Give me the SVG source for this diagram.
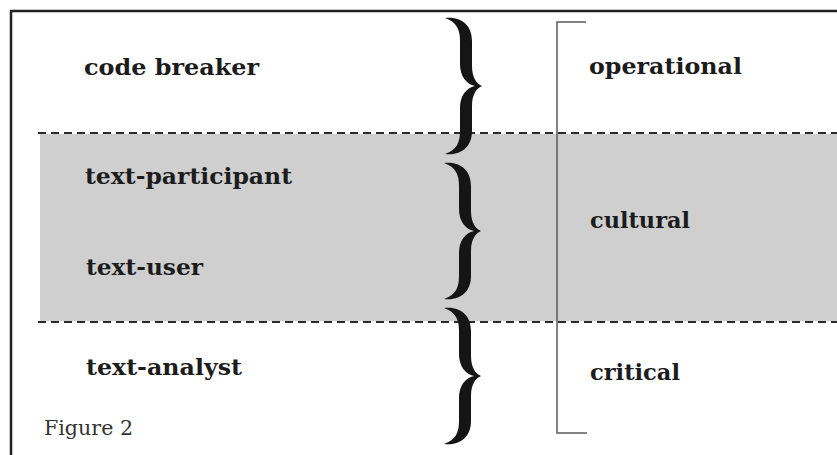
<svg xmlns="http://www.w3.org/2000/svg" width="837" height="455" viewBox="0 0 837 455">
  <defs>
    <style>
      .lbl { font-family: "DejaVu Serif", "Liberation Serif", serif; font-weight: bold; font-size: 23px; fill: #1c1c1c; }
      .cap { font-family: "DejaVu Serif", "Liberation Serif", serif; font-size: 20px; fill: #333; }
      .dash { stroke: #2a2a2a; stroke-width: 2; stroke-dasharray: 8 5; fill: none; }
      .brk { stroke: #5a5a5a; stroke-width: 1.5; fill: none; }
      .brace { fill: #151515; }
    </style>
    <path id="brace" d="M -37,-68 C -20,-70 -10,-60 -10,-45 L -10,-20 C -10,-8 -5,-2 0,0 C -5,2 -10,8 -10,20 L -10,45 C -10,60 -20,70 -37,68 C -25,64 -22,56 -22,45 L -22,22 C -22,10 -16,2 -7,0 C -16,-2 -22,-10 -22,-22 L -22,-45 C -22,-56 -25,-64 -37,-68 Z"/>
  </defs>
  <rect x="0" y="0" width="837" height="455" fill="#ffffff"/>
  <g id="background">
    <rect x="40" y="134" width="797" height="187" fill="#cfcfcf"/>
    <path d="M 11,455 L 11,11 L 837,11" fill="none" stroke="#222" stroke-width="2.5"/>
  </g>
  <g id="connectors">
    <line class="dash" x1="38" y1="133" x2="837" y2="133"/>
    <line class="dash" x1="38" y1="322" x2="837" y2="322"/>
    <path class="brk" d="M 586,22 L 557,22 L 557,433 L 587,433"/>
    <use href="#brace" class="brace" transform="translate(482,86)"/>
    <use href="#brace" class="brace" transform="translate(481,231)"/>
    <use href="#brace" class="brace" transform="translate(481,376)"/>
  </g>
  <g id="code-breaker"><text class="lbl" x="84" y="75" textLength="175" lengthAdjust="spacingAndGlyphs">code breaker</text></g>
  <g id="text-participant"><text class="lbl" x="85" y="184" textLength="207" lengthAdjust="spacingAndGlyphs">text-participant</text></g>
  <g id="text-user"><text class="lbl" x="86" y="275" textLength="117" lengthAdjust="spacingAndGlyphs">text-user</text></g>
  <g id="text-analyst"><text class="lbl" x="86" y="375" textLength="156" lengthAdjust="spacingAndGlyphs">text-analyst</text></g>
  <g id="operational"><text class="lbl" x="589" y="74" textLength="153" lengthAdjust="spacingAndGlyphs">operational</text></g>
  <g id="cultural"><text class="lbl" x="590" y="228" textLength="100" lengthAdjust="spacingAndGlyphs">cultural</text></g>
  <g id="critical"><text class="lbl" x="590" y="380" textLength="90" lengthAdjust="spacingAndGlyphs">critical</text></g>
  <g id="figure-caption"><text class="cap" x="44" y="435" textLength="89" lengthAdjust="spacingAndGlyphs">Figure 2</text></g>
</svg>
